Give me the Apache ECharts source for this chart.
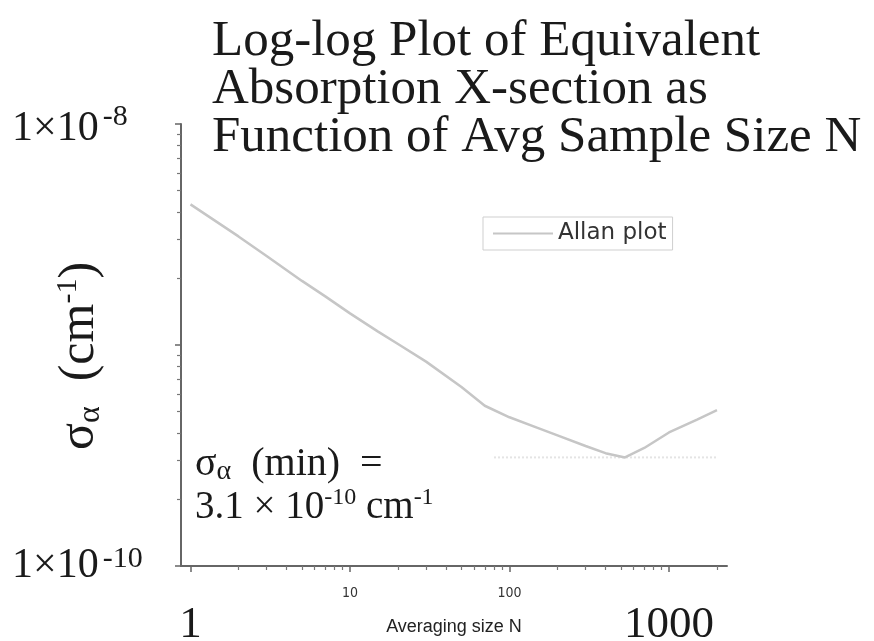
<!DOCTYPE html>
<html>
<head>
<meta charset="utf-8">
<script src="https://cdn.jsdelivr.net/npm/echarts@6/dist/echarts.min.js"></script>
<style>
  html, body { margin: 0; padding: 0; background: #ffffff; }
  #chart { width: 874px; height: 641px; }
</style>
</head>
<body>
<div id="chart"></div>
<script>
// Allan deviation of the equivalent absorption cross-section vs. averaging size N
const sampleSize = [1, 2, 3, 5, 7, 10, 15, 20, 30, 50, 70, 100, 150, 200, 300, 400, 530, 700, 1000, 1500, 2000];
const allanSigma = [4.33e-9, 3.10e-9, 2.53e-9, 1.95e-9, 1.66e-9, 1.39e-9, 1.15e-9, 1.01e-9, 8.41e-10, 6.45e-10,
                    5.31e-10, 4.71e-10, 4.22e-10, 3.90e-10, 3.49e-10, 3.24e-10, 3.10e-10, 3.42e-10, 4.02e-10,
                    4.60e-10, 5.07e-10];

// Minimum deviation reference line
const minLineN = [80, 2000];
const minSigma = 3.1e-10;

// Axis extents
const xRange = [0.872, 2311];
const yRange = [1e-10, 1e-8];

// Ticks (decades and their 2..9 subdivisions)
const xMajorTicks = [1, 10, 100, 1000];
const xMinorTicks = [2, 3, 4, 5, 6, 7, 8, 9, 20, 30, 40, 50, 60, 70, 80, 90,
                     200, 300, 400, 500, 600, 700, 800, 900, 2000];
const yMajorTicks = [1e-10, 1e-9, 1e-8];
const yMinorTicks = [2e-10, 3e-10, 4e-10, 5e-10, 6e-10, 7e-10, 8e-10, 9e-10,
                     2e-9, 3e-9, 4e-9, 5e-9, 6e-9, 7e-9, 8e-9, 9e-9];

// Tick labels
const xSmallLabelValues = [10, 100];
const xSmallLabelTexts = ['10', '100'];
const xBigLabelValues = [1, 1000];
const xBigLabelTexts = ['1', '1000'];
const yLabelValues = [1e-8, 1e-10];
const yLabelMantissa = ['1×10', '1×10'];
const yLabelExponent = ['-8', '-10'];

const lg = Math.log10;
const near = (a, b) => Math.abs(a - b) < 1e-6;
const pick = (values, texts) => v => {
  const i = values.findIndex(x => near(lg(x), v));
  return i < 0 ? '' : texts[i];
};

const SERIF = "'Liberation Serif', 'DejaVu Serif', serif";
const SANS = "'Liberation Sans', Arial, sans-serif";
const SANS_WIDE = "'DejaVu Sans', 'Liberation Sans', sans-serif";
const SANS_NARROW = "'Liberation Sans Narrow', 'DejaVu Sans Condensed', 'Liberation Sans', sans-serif";

const chart = echarts.init(document.getElementById('chart'), null, { renderer: 'canvas' });

const xBase = {
  type: 'value',
  min: lg(xRange[0]),
  max: lg(xRange[1]),
  position: 'bottom',
  splitLine: { show: false }
};
const yBase = {
  type: 'value',
  min: lg(yRange[0]),
  max: lg(yRange[1]),
  position: 'left',
  splitLine: { show: false }
};

chart.setOption({
  animation: false,
  backgroundColor: '#ffffff',
  title: {
    text: 'Log-log Plot of Equivalent\nAbsorption X-section as\nFunction of Avg Sample Size N',
    left: 207,
    top: 13,
    textStyle: { fontFamily: SERIF, fontSize: 51, fontWeight: 'normal', color: '#1a1a1a', lineHeight: 48 }
  },
  legend: {
    data: ['Allan plot'],
    left: 483,
    top: 217,
    orient: 'horizontal',
    itemWidth: 60,
    itemHeight: 14,
    itemGap: 8,
    padding: [5, 6, 5, 9],
    borderColor: '#cfcfcf',
    borderWidth: 1,
    itemStyle: { opacity: 0 },
    lineStyle: { color: '#c6c6c6', width: 2 },
    textStyle: { fontFamily: SANS_WIDE, fontSize: 23, color: '#333' }
  },
  grid: { left: 181, top: 124, right: 147, bottom: 75, containLabel: false, outerBoundsMode: 'none' },
  xAxis: [
    Object.assign({}, xBase, {
      name: 'Averaging size N',
      nameLocation: 'middle',
      nameGap: 52,
      nameMoveOverlap: false,
      nameTextStyle: { fontFamily: SANS, fontSize: 18, color: '#222' },
      axisLine: { show: true, onZero: false, lineStyle: { color: '#666', width: 2 } },
      axisTick: { show: true, length: 6, customValues: xMajorTicks.map(lg), lineStyle: { color: '#666', width: 1.5 } },
      axisLabel: {
        show: true, margin: 20, customValues: xSmallLabelValues.map(lg),
        formatter: pick(xSmallLabelValues, xSmallLabelTexts),
        fontFamily: SANS_NARROW, fontSize: 14, color: '#333'
      }
    }),
    Object.assign({}, xBase, {
      axisLine: { show: false, onZero: false },
      axisTick: { show: true, length: 4, customValues: xMinorTicks.map(lg), lineStyle: { color: '#777', width: 1.2 } },
      axisLabel: {
        show: true, margin: 37, customValues: xBigLabelValues.map(lg),
        formatter: pick(xBigLabelValues, xBigLabelTexts),
        fontFamily: SERIF, fontSize: 45, color: '#1a1a1a'
      }
    })
  ],
  yAxis: [
    Object.assign({}, yBase, {
      name: '{m|σ}{sub|α}{m|  (cm}{sup|-1}{end|)}',
      nameLocation: 'middle',
      nameRotate: 90,
      nameGap: 74,
      nameMoveOverlap: false,
      nameTextStyle: {
        rich: {
          m: { fontFamily: SERIF, fontSize: 50, color: '#1a1a1a', lineHeight: 54 },
          end: { fontFamily: SERIF, fontSize: 50, color: '#1a1a1a', lineHeight: 54, padding: [0, 22, 0, 0] },
          sub: { fontFamily: SERIF, fontSize: 32, color: '#1a1a1a', lineHeight: 24, verticalAlign: 'bottom' },
          sup: { fontFamily: SERIF, fontSize: 30, color: '#1a1a1a', lineHeight: 24, verticalAlign: 'top' }
        }
      },
      axisLine: { show: true, onZero: false, lineStyle: { color: '#666', width: 2 } },
      axisTick: { show: true, length: 6, customValues: yMajorTicks.map(lg), lineStyle: { color: '#666', width: 1.5 } },
      axisLabel: {
        show: true, margin: 169, align: 'left', customValues: yLabelValues.map(lg),
        formatter: v => {
          const i = yLabelValues.findIndex(x => near(lg(x), v));
          if (i < 0) return '';
          const top = i === 0;
          return '{' + (top ? 'mt' : 'm') + '|' + yLabelMantissa[i] + '}{s|' + yLabelExponent[i] + '}';
        },
        rich: {
          m: { fontFamily: SERIF, fontSize: 42, color: '#1a1a1a', lineHeight: 44 },
          mt: { fontFamily: SERIF, fontSize: 42, color: '#1a1a1a', lineHeight: 44, padding: [10, 0, 0, 0] },
          s: { fontFamily: SERIF, fontSize: 30, color: '#1a1a1a', lineHeight: 24, verticalAlign: 'top', padding: [0, 0, 0, 4] }
        }
      }
    }),
    Object.assign({}, yBase, {
      axisLine: { show: false, onZero: false },
      axisTick: { show: true, length: 4, customValues: yMinorTicks.map(lg), lineStyle: { color: '#777', width: 1.2 } },
      axisLabel: { show: false }
    })
  ],
  series: [
    {
      name: 'Allan plot',
      type: 'line',
      xAxisIndex: 0,
      yAxisIndex: 0,
      symbol: 'none',
      lineStyle: { color: '#c6c6c6', width: 2.5 },
      itemStyle: { color: '#c6c6c6' },
      data: sampleSize.map((n, i) => [lg(n), lg(allanSigma[i])]),
      z: 3
    },
    {
      name: 'σ min',
      type: 'line',
      xAxisIndex: 0,
      yAxisIndex: 0,
      symbol: 'none',
      lineStyle: { color: '#e4e4e4', width: 2, type: 'dotted' },
      data: minLineN.map(n => [lg(n), lg(minSigma)]),
      z: 2
    }
  ],
  graphic: [
    {
      type: 'text',
      left: 195,
      top: 444,
      style: {
        text: '{m|σ}{sub|α}{m|  (min)  =}',
        rich: {
          m: { fontFamily: SERIF, fontSize: 40, fill: '#1a1a1a', lineHeight: 44 },
          sub: { fontFamily: SERIF, fontSize: 28, fill: '#1a1a1a', lineHeight: 20, verticalAlign: 'bottom' }
        }
      }
    },
    {
      type: 'text',
      left: 195,
      top: 486,
      style: {
        text: '{m|3.1 × 10}{sup|-10}{m| cm}{sup|-1}',
        rich: {
          m: { fontFamily: SERIF, fontSize: 39, fill: '#1a1a1a', lineHeight: 44 },
          sup: { fontFamily: SERIF, fontSize: 24, fill: '#1a1a1a', lineHeight: 20, verticalAlign: 'top' }
        }
      }
    }
  ]
});
</script>
</body>
</html>
